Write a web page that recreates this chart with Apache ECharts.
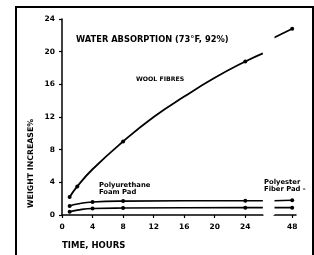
<!DOCTYPE html>
<html>
<head>
<meta charset="utf-8">
<script src="https://cdn.jsdelivr.net/npm/echarts@6/dist/echarts.min.js"></script>
<style>
  html, body { margin: 0; padding: 0; background: #fff; }
  #chart { width: 314px; height: 255px; }
</style>
</head>
<body>
<div id="chart"></div>
<script>
// hours on the x axis, weight increase % on the y axis
const hourTicks = [0, 4, 8, 12, 16, 20, 24, 48];

// '-' marks where the line is broken by the axis break
const woolHours = [1, 2, 4, 8, 12, 16, 20, 24, 26.3, 26.3, 45.6, 48];
const woolWeight = [2.2, 3.5, 5.6, 9, 12, 14.5, 16.8, 18.8, 19.8, '-', 21.7, 22.8];
const woolMarks = [1, 2, 8, 24, 48];

const foamHours = [1, 2, 4, 8, 24, 26.3, 26.3, 45.6, 48];
const foamWeight = [1.1, 1.35, 1.6, 1.7, 1.75, 1.75, '-', 1.75, 1.8];
const foamMarks = [1, 4, 8, 24, 48];

const fiberHours = [1, 2, 4, 8, 24, 26.3, 26.3, 45.6, 48];
const fiberWeight = [0.4, 0.6, 0.8, 0.85, 0.9, 0.9, '-', 0.9, 0.9];
const fiberMarks = [1, 4, 8, 24, 48];

const FONT = 'DejaVu Sans';

function toData(xs, ys, marks) {
  return xs.map((h, i) => ({
    value: [h, ys[i]],
    symbol: (marks.indexOf(h) >= 0 && ys[i] !== '-') ? 'circle' : 'none'
  }));
}

function lineSeries(name, data, width) {
  return {
    name: name,
    type: 'line',
    smooth: true,
    data: data,
    symbolSize: 4,
    itemStyle: { color: '#000' },
    lineStyle: { color: '#000', width: width },
    connectNulls: false,
    animation: false
  };
}

function txt(x, y, s, size, extra) {
  return Object.assign({
    type: 'text', x: x, y: y, z: 100, zlevel: 1,
    style: { text: s, fill: '#000', font: 'bold ' + size + 'px "' + FONT + '"' }
  }, extra || {});
}

const chart = echarts.init(document.getElementById('chart'), null, { renderer: 'canvas' });

chart.setOption({
  backgroundColor: '#fff',
  animation: false,
  grid: { left: 62, right: 18, top: 19, bottom: 40 },
  xAxis: {
    type: 'value',
    min: 0,
    max: 48.5,
    breaks: [{ start: 26.3, end: 45.6, gap: '4.7%' }],
    breakArea: {
      show: true,
      itemStyle: { color: '#fff', borderColor: '#fff', borderWidth: 0, opacity: 1 },
      zigzagAmplitude: 0
    },
    axisLine: { lineStyle: { color: '#000', width: 1.5 } },
    axisTick: { customValues: hourTicks, length: 3, lineStyle: { color: '#000', width: 1.2 } },
    axisLabel: {
      customValues: hourTicks,
      margin: 8,
      color: '#000',
      fontSize: 7.5,
      fontWeight: 'bold',
      fontFamily: FONT
    },
    splitLine: { show: false }
  },
  yAxis: {
    type: 'value',
    min: 0,
    max: 24,
    interval: 4,
    axisLine: { show: true, lineStyle: { color: '#000', width: 1.5 } },
    axisTick: { show: true, length: 3, lineStyle: { color: '#000', width: 1.2 } },
    axisLabel: { margin: 7, color: '#000', fontSize: 7.5, fontWeight: 'bold', fontFamily: FONT },
    splitLine: { show: false }
  },
  graphic: [
    {
      type: 'rect', z: 100, zlevel: 1,
      shape: { x: 16, y: 7, width: 297, height: 262 },
      style: { fill: 'none', stroke: '#000', lineWidth: 2 }
    },
    txt(76, 36, 'WATER ABSORPTION (73°F, 92%)', 8.3),
    txt(136, 76, 'WOOL FIBRES', 6.2),
    txt(99, 182, 'Polyurethane', 6.8),
    txt(99, 189, 'Foam Pad', 6.8),
    txt(264, 179, 'Polyester', 6.8),
    txt(264, 186, 'Fiber Pad -', 6.8),
    txt(62, 241, 'TIME, HOURS', 8.5),
    txt(27, 208, 'WEIGHT INCREASE%', 7.8, { rotation: Math.PI / 2 })
  ],
  series: [
    lineSeries('Wool Fibres', toData(woolHours, woolWeight, woolMarks), 1.8),
    lineSeries('Polyurethane Foam Pad', toData(foamHours, foamWeight, foamMarks), 1.6),
    lineSeries('Polyester Fiber Pad', toData(fiberHours, fiberWeight, fiberMarks), 1.6)
  ]
});
</script>
</body>
</html>
